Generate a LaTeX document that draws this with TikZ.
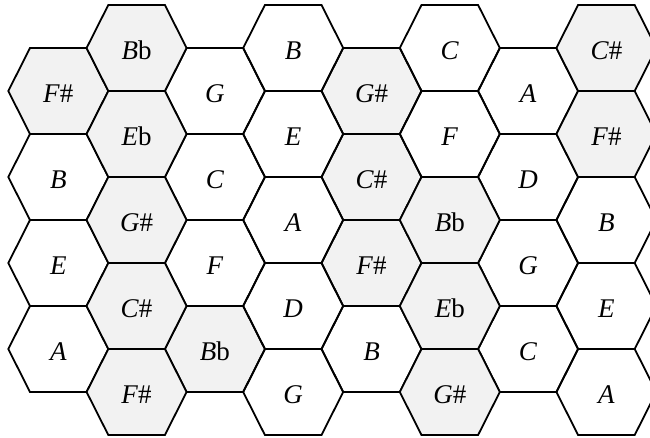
\documentclass[tikz,border=0pt]{standalone}
\usepackage{fontspec}
\setmainfont{Liberation Serif}
\usepackage{tikz}
\usetikzlibrary{calc}

% one hexagonal key: x, y, name, style, label
\newcommand{\hexkey}[5]{%
	\draw[#4] (#1-50,#2) -- (#1-28.3,#2-43) -- (#1+28.3,#2-43)
		-- (#1+50,#2) -- (#1+28.3,#2+43) -- (#1-28.3,#2+43) -- cycle;
	\node[note] (#3) at (#1,#2+11.5) {#5};
}

\tikzset{
	key/.style={draw=black, line width=1.8pt},
	blackkey/.style={key, fill=black!5},
	note/.style={anchor=base, inner sep=0pt, font=\fontsize{27}{30}\selectfont}
}

\begin{document}
\begin{tikzpicture}[x=1pt, y=-1pt, line join=miter]
				\fill[white] (0,0) rectangle (650,437);
				\useasboundingbox (0,0) rectangle (650,437);
				\clip (0,0) rectangle (650,437);
				% even columns
				\foreach \lbl/\sty [count=\i from 0] in {\textit{F}\#/blackkey, \textit{B}/key, \textit{E}/key, \textit{A}/key}
					{\hexkey{58.3}{91+86*\i}{a\i}{\sty}{\lbl}}
				\foreach \lbl/\sty [count=\i from 0] in {\textit{G}/key, \textit{C}/key, \textit{F}/key, \textit{B}b/blackkey}
					{\hexkey{214.9}{91+86*\i}{c\i}{\sty}{\lbl}}
				\foreach \lbl/\sty [count=\i from 0] in {\textit{G}\#/blackkey, \textit{C}\#/blackkey, \textit{F}\#/blackkey, \textit{B}/key}
					{\hexkey{371.5}{91+86*\i}{e\i}{\sty}{\lbl}}
				\foreach \lbl/\sty [count=\i from 0] in {\textit{A}/key, \textit{D}/key, \textit{G}/key, \textit{C}/key}
					{\hexkey{528.1}{91+86*\i}{g\i}{\sty}{\lbl}}
				% odd columns
				\foreach \lbl/\sty [count=\i from 0] in {\textit{B}b/blackkey, \textit{E}b/blackkey, \textit{G}\#/blackkey, \textit{C}\#/blackkey, \textit{F}\#/blackkey}
					{\hexkey{136.6}{48+86*\i}{b\i}{\sty}{\lbl}}
				\foreach \lbl/\sty [count=\i from 0] in {\textit{B}/key, \textit{E}/key, \textit{A}/key, \textit{D}/key, \textit{G}/key}
					{\hexkey{293.2}{48+86*\i}{d\i}{\sty}{\lbl}}
				\foreach \lbl/\sty [count=\i from 0] in {\textit{C}/key, \textit{F}/key, \textit{B}b/blackkey, \textit{E}b/blackkey, \textit{G}\#/blackkey}
					{\hexkey{449.8}{48+86*\i}{f\i}{\sty}{\lbl}}
				\foreach \lbl/\sty [count=\i from 0] in {\textit{C}\#/blackkey, \textit{F}\#/blackkey, \textit{B}/key, \textit{E}/key, \textit{A}/key}
					{\hexkey{606.4}{48+86*\i}{h\i}{\sty}{\lbl}}
			\end{tikzpicture}
\end{document}
